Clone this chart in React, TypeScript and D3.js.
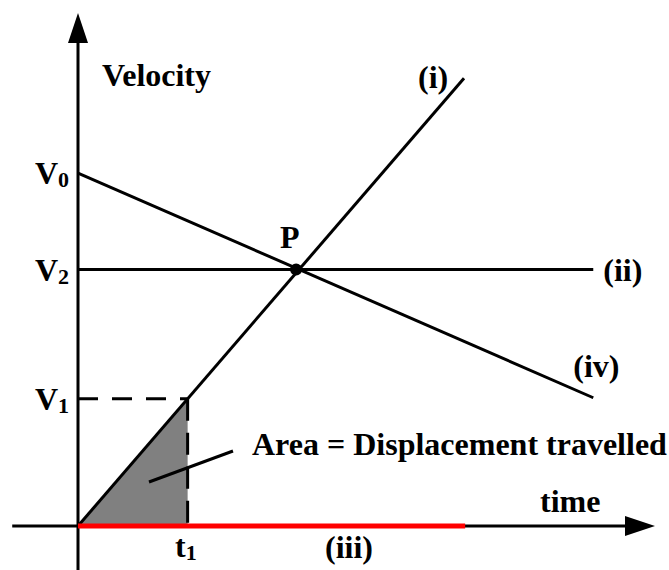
import * as d3 from "d3";
import * as React from "react";

const width = 669;
const height = 570;

// values in chart units (time 0..10, velocity 0..10)
const levelSubs = ["0", "2", "1"];
const levelValues = [6.88, 5.0, 2.48];

const t1 = 1.9;
const v1 = 2.48;
const pointP = [3.78, 5.0];

const lineI = [[0, 0], [6.69, 8.73]];
const lineII = [[0, 5.0], [8.93, 5.0]];
const lineIII = [[0, 0], [6.71, 0]];
const lineIV = [[0, 6.88], [8.93, 2.5]];
const areaPts = [[0, 0], [t1, v1]];

const axisX = [-1.14, 10];
const axisY = [-0.86, 10];

const font = "'Liberation Serif', 'Times New Roman', serif";

export default function App() {
  const x = d3.scaleLinear().domain([0, 10]).range([78, 655]);
  const y = d3.scaleLinear().domain([0, 10]).range([526, 13]);

  const line = d3.line<number[]>().x(d => x(d[0])).y(d => y(d[1]));
  const area = d3.area<number[]>().x(d => x(d[0])).y0(y(0)).y1(d => y(d[1]));

  const txt = { fontFamily: font, fontWeight: 700, fontSize: 32, fill: "#000" } as any;

  const xTip = x(axisX[1]);
  const yTip = y(axisY[1]);

  return (
    <svg width={width} height={height} style={{ position: "absolute", left: 0, top: 0, background: "#fff" }}>
      {/* shaded area */}
      <path d={area(areaPts as any) || ""} fill="#808080" />

      {/* dashed guides */}
      <path d={line([[0, v1], [t1, v1]]) || ""} stroke="#000" strokeWidth={3} strokeDasharray="20,14" fill="none" />
      <path d={line([[t1, v1], [t1, 0]]) || ""} stroke="#000" strokeWidth={3} strokeDasharray="22,12" fill="none" />

      {/* axes */}
      <line x1={x(axisX[0])} x2={xTip - 20} y1={y(0)} y2={y(0)} stroke="#000" strokeWidth={3} />
      <path d={`M${xTip},${y(0)} L${xTip - 30},${y(0) - 10} L${xTip - 30},${y(0) + 10} Z`} fill="#000" />
      <line x1={x(0)} x2={x(0)} y1={y(axisY[0])} y2={yTip + 20} stroke="#000" strokeWidth={3} />
      <path d={`M${x(0)},${yTip} L${x(0) - 10},${yTip + 30} L${x(0) + 10},${yTip + 30} Z`} fill="#000" />

      {/* lines */}
      <path d={line(lineI as any) || ""} stroke="#000" strokeWidth={3} fill="none" />
      <path d={line(lineII as any) || ""} stroke="#000" strokeWidth={3} fill="none" />
      <path d={line(lineIV as any) || ""} stroke="#000" strokeWidth={3} fill="none" />
      <path d={line(lineIII as any) || ""} stroke="#ff0000" strokeWidth={5} fill="none" />

      {/* pointer to area */}
      <line x1={149} y1={482} x2={233} y2={451} stroke="#000" strokeWidth={3} />

      <circle cx={x(pointP[0])} cy={y(pointP[1])} r={6} fill="#000" />

      {/* labels */}
      <text {...txt} x={102} y={86}>Velocity</text>
      {levelValues.map((v, i) => (
        <text key={i} {...txt} x={35} y={y(v) + 11}>
          V<tspan fontSize={22} dy={3}>{levelSubs[i]}</tspan>
        </text>
      ))}
      <text {...txt} x={x(pointP[0]) - 16} y={y(pointP[1]) - 22}>P</text>
      <text {...txt} x={x(lineI[1][0]) - 46} y={y(lineI[1][1]) + 10}>(i)</text>
      <text {...txt} x={x(lineII[1][0]) + 10} y={y(lineII[1][1]) + 11}>(ii)</text>
      <text {...txt} x={x(lineIV[1][0]) - 20} y={y(lineIV[1][1]) - 21}>(iv)</text>
      <text {...txt} x={325} y={558}>(iii)</text>
      <text {...txt} x={175} y={557}>
        t<tspan fontSize={22} dy={3}>1</tspan>
      </text>
      <text {...txt} x={540} y={512}>time</text>
      <text {...txt} x={252} y={455}>Area = Displacement travelled</text>
    </svg>
  );
}
